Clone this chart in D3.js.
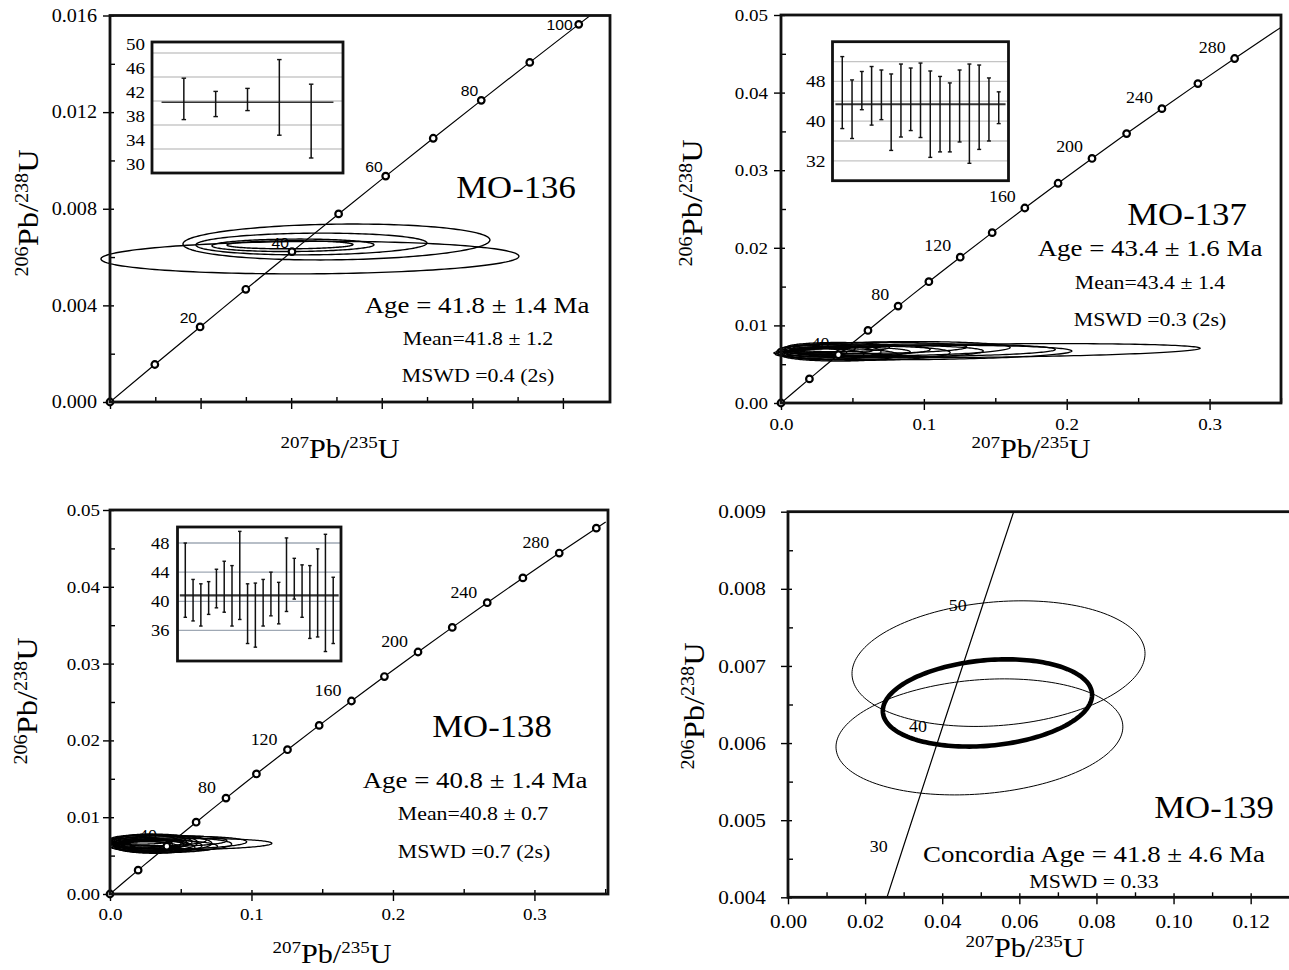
<!DOCTYPE html>
<html>
<head>
<meta charset="utf-8">
<script src="https://cdn.jsdelivr.net/npm/d3@7"></script>
<style>
  body { margin: 0; background: #fff; }
  svg { display: block; background: #fff; }
</style>
</head>
<body>
<svg id="chart" width="1289" height="970"></svg>
<script>
// concordia reference points: age (Ma), 207Pb/235U, 206Pb/238U
const concAge = [0, 10, 20, 25, 30, 40, 50, 60, 70, 80, 90, 100, 103, 120, 140, 160, 180, 200, 220, 240, 260, 280, 300, 305];
const concX = [0, 0.009897, 0.019892, 0.024927, 0.029986, 0.040180, 0.050475, 0.060872, 0.071371, 0.081975, 0.092683, 0.103498, 0.106763,
               0.125449, 0.147837, 0.170670, 0.193957, 0.217707, 0.241930, 0.266635, 0.291832, 0.317529, 0.343737, 0.350371];
const concY = [0, 0.0015525, 0.0031073, 0.0038857, 0.0046646, 0.0062243, 0.0077864, 0.0093509, 0.0109179, 0.0124873, 0.0140592, 0.0156334, 0.0161062,
               0.0187893, 0.0219550, 0.0251305, 0.0283160, 0.0315113, 0.0347165, 0.0379318, 0.0411569, 0.0443921, 0.0476374, 0.0484503];

// ---- MO-136 ----
const p1Markers = [0, 10, 20, 30, 40, 50, 60, 70, 80, 90, 100];
const p1AgeLabels = [20, 40, 60, 80, 100];
const p1EllCx = [0.04415, 0.0500, 0.04448, 0.0404, 0.03974];
const p1EllCy = [0.005977, 0.006624, 0.006541, 0.006487, 0.006508];
const p1EllA = [0.04614, 0.03389, 0.0255, 0.01788, 0.01391];
const p1EllB = [0.000671, 0.000738, 0.000448, 0.000257, 0.000166];
const p1EllTilt = [0.000056, 0.000083, 0.00004, 0.00002, 0.00001];
const p1BarLo = [38.9, 39.4, 40.4, 36.3, 32.5];
const p1BarHi = [45.8, 43.6, 44.1, 48.9, 44.8];
const p1Mean = 41.8;
const p1InsetGrid = [34, 38, 42, 46, 50];
const p1InsetLabels = [30, 34, 38, 42, 46, 50];
const p1YTicks = [0, 0.004, 0.008, 0.012, 0.016];
const p1YMinor = [0.002, 0.006, 0.010, 0.014];
const p1XTicks = [0, 0.02, 0.04, 0.06, 0.08, 0.10];
const p1XMinor = [0.01, 0.03, 0.05, 0.07, 0.09];
const p1Notes = ['MO-136', 'Age = 41.8 ± 1.4 Ma', 'Mean=41.8 ± 1.2', 'MSWD =0.4 (2s)'];

// ---- MO-137 ----
const p2Markers = [0, 20, 40, 60, 80, 100, 120, 140, 160, 180, 200, 220, 240, 260, 280];
const p2AgeLabels = [40, 80, 120, 160, 200, 240, 280];
const p2EllCx = [0.1442, 0.0998, 0.096, 0.0792, 0.0718, 0.065, 0.0612, 0.0532, 0.0482, 0.041, 0.040, 0.0335, 0.035, 0.030, 0.030, 0.025, 0.025];
const p2EllCy = [0.00675, 0.0065, 0.0068, 0.0070, 0.0066, 0.0071, 0.0064, 0.0069, 0.0066, 0.0062, 0.0072, 0.0066, 0.0068, 0.0063, 0.0070, 0.0065, 0.0067];
const p2EllA = [0.1492, 0.1038, 0.096, 0.0812, 0.0698, 0.065, 0.0572, 0.0512, 0.0422, 0.041, 0.036, 0.0365, 0.029, 0.028, 0.022, 0.021, 0.015];
const p2EllB = [0.00085, 0.0009, 0.0008, 0.0009, 0.0008, 0.0007, 0.0009, 0.0007, 0.0006, 0.0008, 0.0006, 0.0010, 0.0005, 0.0007, 0.0005, 0.0006, 0.0004];
const p2EllTilt = [0.0003, 0.0002, 0.0001, 0.00015, 0.0001, 0.0001, 0.0001, 0, 0, 0, 0, 0, 0, 0, 0, 0, 0];
const p2BarLo = [38.5, 36.5, 42.3, 39.2, 40.3, 34.1, 36.8, 38.1, 36.7, 32.7, 33.8, 33.8, 35.8, 31.5, 34.3, 36.0, 39.5];
const p2BarHi = [53.0, 48.3, 50.0, 51.0, 50.3, 49.5, 51.5, 50.7, 51.7, 50.1, 49.0, 47.7, 50.3, 51.5, 51.3, 48.7, 45.9];
const p2Mean = 43.4;
const p2InsetGrid = [32, 36, 40, 44, 48, 52];
const p2InsetLabels = [32, 40, 48];
const p2YTicks = [0, 0.01, 0.02, 0.03, 0.04, 0.05];
const p2YMinor = [0.005, 0.015, 0.025, 0.035, 0.045];
const p2XTicks = [0, 0.1, 0.2, 0.3];
const p2XMinor = [0.05, 0.15, 0.25, 0.35];
const p2Notes = ['MO-137', 'Age = 43.4 ± 1.6 Ma', 'Mean=43.4 ± 1.4', 'MSWD =0.3 (2s)'];

// ---- MO-138 ----
const p3Markers = [0, 20, 40, 60, 80, 100, 120, 140, 160, 180, 200, 220, 240, 260, 280, 300];
const p3AgeLabels = [40, 80, 120, 160, 200, 240, 280];
const p3EllCx = [0.0572, 0.0493, 0.043, 0.0418, 0.038, 0.0375, 0.034, 0.0335, 0.0315, 0.032, 0.029, 0.0295, 0.0275, 0.0285, 0.026, 0.026, 0.023, 0.025, 0.0225, 0.024];
const p3EllCy = [0.0065, 0.0067, 0.0064, 0.0069, 0.0062, 0.0066, 0.0070, 0.0063, 0.0067, 0.0061, 0.0068, 0.0065, 0.0069, 0.0064, 0.0066, 0.0062, 0.0071, 0.0065, 0.0067, 0.0064];
const p3EllA = [0.0572, 0.0473, 0.043, 0.0408, 0.038, 0.0345, 0.034, 0.0315, 0.0305, 0.028, 0.029, 0.0265, 0.0265, 0.0235, 0.024, 0.022, 0.023, 0.019, 0.0195, 0.016];
const p3EllB = [0.0007, 0.0008, 0.0009, 0.0007, 0.0008, 0.0010, 0.0007, 0.0009, 0.0011, 0.0008, 0.0009, 0.0006, 0.0008, 0.0007, 0.0012, 0.0006, 0.0006, 0.0008, 0.0007, 0.0005];
const p3EllTilt = [0.0001, 0.0001, 0.0001, 0.00005, 0, 0, 0, 0, 0, 0, 0, 0, 0, 0, 0, 0, 0, 0, 0, 0];
const p3BarLo = [37.8, 37.3, 36.6, 38.2, 39.1, 38.5, 36.6, 37.5, 34.2, 33.7, 36.6, 38.0, 36.9, 38.6, 40.3, 37.8, 34.9, 35.1, 33.1, 34.2];
const p3BarHi = [48.0, 43.0, 42.4, 42.7, 44.4, 45.5, 44.9, 49.6, 42.4, 42.5, 43.0, 44.0, 42.6, 48.7, 45.9, 45.0, 44.9, 47.2, 49.2, 43.3];
const p3Mean = 40.8;
const p3InsetGrid = [36, 40, 44, 48];
const p3InsetLabels = [36, 40, 44, 48];
const p3YTicks = [0, 0.01, 0.02, 0.03, 0.04, 0.05];
const p3YMinor = [0.005, 0.015, 0.025, 0.035, 0.045];
const p3XTicks = [0, 0.1, 0.2, 0.3];
const p3XMinor = [0.05, 0.15, 0.25, 0.35];
const p3Notes = ['MO-138', 'Age = 40.8 ± 1.4 Ma', 'Mean=40.8 ± 0.7', 'MSWD =0.7 (2s)'];

// ---- MO-139 ----
const p4Markers = [];
const p4AgeLabels = [30, 40, 50];
const p4EllCx = [0.0546, 0.04965, 0.05173];
const p4EllCy = [0.00703, 0.00608, 0.00652];
const p4EllA = [0.0380, 0.0372, 0.02714];
const p4EllB = [0.000804, 0.000741, 0.000556];
const p4EllTilt = [0.00013, 0.00013, 0.000104];
const p4YTicks = [0.004, 0.005, 0.006, 0.007, 0.008, 0.009];
const p4YMinor = [0.0045, 0.0055, 0.0065, 0.0075, 0.0085];
const p4XTicks = [0, 0.02, 0.04, 0.06, 0.08, 0.10, 0.12];
const p4XMinor = [0.01, 0.03, 0.05, 0.07, 0.09, 0.11, 0.13];
const p4Notes = ['MO-139', 'Concordia Age = 41.8 ± 4.6 Ma', 'MSWD = 0.33'];

const SERIF = '"Liberation Serif", "Times New Roman", serif';
const SANS = '"Liberation Sans", Arial, sans-serif';
const SX = 1.12; // the scanned figure is a bit wider than tall

const svg = d3.select('#chart');

const panels = [
  {
    name: 'p1', xDomain: [0, 0.1104], xRange: [110, 610], yDomain: [0, 0.016], yRange: [402, 15.5],
    yFmt: '.3f', xFmt: null, yPad: 6, xPad: 8, tickSize: 18,
    lab: [-3, -4], labFont: SANS, labSize: 14, ellStroke: 1.4,
    notePos: [[516, 198, 31], [477, 313, 24], [478, 345, 19.5], [478, 382, 19.5]],
    xTitle: [340, 458], yTitle: [38, 213],
    inset: { x: [152, 343], y: [42, 173], yDomain: [30, 51.83], gap: 7, labelDy: -8.5, labelSize: 17,
             grid: '#c8c8c8', cap: 4.5, meanW: 1.6 },
    d: { markers: p1Markers, ageLabels: p1AgeLabels, ellCx: p1EllCx, ellCy: p1EllCy, ellA: p1EllA, ellB: p1EllB, ellTilt: p1EllTilt,
         lo: p1BarLo, hi: p1BarHi, mean: p1Mean, grid: p1InsetGrid, insetLabels: p1InsetLabels,
         yMajor: p1YTicks, yMinor: p1YMinor, xMajor: p1XTicks, xMinor: p1XMinor, notes: p1Notes }
  },
  {
    name: 'p2', xDomain: [0, 0.35], xRange: [781, 1281], yDomain: [0, 0.05], yRange: [403, 15],
    yFmt: '.2f', xFmt: '.1f', yPad: 6, xPad: 8, tickSize: 17,
    lab: [-9, -6], labFont: SERIF, labSize: 16, ellStroke: 1.3,
    notePos: [[1187, 225, 31], [1150, 256, 24], [1150, 289, 19.5], [1150, 326, 19.5]],
    xTitle: [1031, 458], yTitle: [702, 203],
    inset: { x: [832.5, 1008.5], y: [41.7, 180.7], yDomain: [28, 56], gap: 7, labelDy: 0, labelSize: 17.5,
             grid: '#c4c4c4', cap: 4, meanW: 2.2 },
    d: { markers: p2Markers, ageLabels: p2AgeLabels, ellCx: p2EllCx, ellCy: p2EllCy, ellA: p2EllA, ellB: p2EllB, ellTilt: p2EllTilt,
         lo: p2BarLo, hi: p2BarHi, mean: p2Mean, grid: p2InsetGrid, insetLabels: p2InsetLabels,
         yMajor: p2YTicks, yMinor: p2YMinor, xMajor: p2XTicks, xMinor: p2XMinor, notes: p2Notes }
  },
  {
    name: 'p3', xDomain: [0, 0.352], xRange: [110, 608], yDomain: [0, 0.05], yRange: [894, 510],
    yFmt: '.2f', xFmt: '.1f', yPad: 3, xPad: 7, tickSize: 17,
    lab: [-10, -5], labFont: SERIF, labSize: 16, ellStroke: 1.3,
    notePos: [[492, 737, 31], [475, 788, 24], [473, 820, 19.5], [474, 858, 19.5]],
    xTitle: [332, 963], yTitle: [37, 701],
    inset: { x: [177.5, 341], y: [527, 661], yDomain: [31.8, 50.2], gap: 8, labelDy: 0, labelSize: 16.5,
             grid: '#9fa8b4', cap: 3.5, meanW: 2.2 },
    d: { markers: p3Markers, ageLabels: p3AgeLabels, ellCx: p3EllCx, ellCy: p3EllCy, ellA: p3EllA, ellB: p3EllB, ellTilt: p3EllTilt,
         lo: p3BarLo, hi: p3BarHi, mean: p3Mean, grid: p3InsetGrid, insetLabels: p3InsetLabels,
         yMajor: p3YTicks, yMinor: p3YMinor, xMajor: p3XTicks, xMinor: p3XMinor, notes: p3Notes }
  },
  {
    name: 'p4', xDomain: [0, 0.1315], xRange: [788, 1295], yDomain: [0.004, 0.009], yRange: [897.3, 511.7],
    yFmt: '.3f', xFmt: '.2f', yPad: 15, xPad: 10.5, tickSize: 19,
    lab: [-16, 6], labFont: SERIF, labSize: 16, ellWidth: [1, 1, 4.6],
    notePos: [[1214, 818, 31], [1094, 862, 24], [1094, 888, 19.5]],
    xTitle: [1025, 957], yTitle: [704, 706],
    inset: null,
    d: { markers: p4Markers, ageLabels: p4AgeLabels, ellCx: p4EllCx, ellCy: p4EllCy, ellA: p4EllA, ellB: p4EllB, ellTilt: p4EllTilt,
         yMajor: p4YTicks, yMinor: p4YMinor, xMajor: p4XTicks, xMinor: p4XMinor, notes: p4Notes }
  }
];

function stretched(sel, x, y, rotate) {
  return sel.attr('transform', `translate(${x},${y})${rotate ? ' rotate(-90)' : ''} scale(${SX},1)`);
}

function drawAxes(g, x, y, p, d) {
  const x0 = p.xRange[0], yb = p.yRange[0];
  const yMaj = g.append('g').attr('transform', `translate(${x0},0)`)
    .call(d3.axisLeft(y).tickValues(d.yMajor).tickSize(7).tickPadding(p.yPad).tickFormat(d3.format(p.yFmt)));
  yMaj.selectAll('.tick line').attr('x1', 4);
  g.append('g').attr('transform', `translate(${x0},0)`)
    .call(d3.axisLeft(y).tickValues(d.yMinor).tickSize(-5).tickFormat(''));
  const xMaj = g.append('g').attr('transform', `translate(0,${yb})`)
    .call(d3.axisBottom(x).tickValues(d.xMajor).tickSize(7).tickPadding(p.xPad)
      .tickFormat(p.xFmt ? d3.format(p.xFmt) : ''));
  xMaj.selectAll('.tick line').attr('y1', -4);
  g.append('g').attr('transform', `translate(0,${yb})`)
    .call(d3.axisBottom(x).tickValues(d.xMinor).tickSize(-5).tickFormat(''));
  g.selectAll('.domain').remove();
  g.selectAll('.tick line').attr('stroke-width', 1.4);
  g.selectAll('.tick text')
    .style('font-family', SERIF).style('font-size', p.tickSize + 'px')
    .attr('transform', `scale(${SX},1)`)
    .attr('x', function () { return (+this.getAttribute('x') || 0) / SX; });
}

function drawInset(g, p, d) {
  const s = p.inset;
  const ix = d3.scaleLinear().domain([0, d.lo.length + 1]).range(s.x);
  const iy = d3.scaleLinear().domain(s.yDomain).range([s.y[1], s.y[0]]);
  const ig = g.append('g');
  ig.append('rect').attr('x', s.x[0]).attr('y', s.y[0])
    .attr('width', s.x[1] - s.x[0]).attr('height', s.y[1] - s.y[0]).attr('fill', '#fff');
  ig.selectAll('line.grid').data(d.grid).join('line').attr('class', 'grid')
    .attr('x1', s.x[0]).attr('x2', s.x[1]).attr('y1', v => iy(v)).attr('y2', v => iy(v))
    .attr('stroke', s.grid).attr('stroke-width', 1.3);
  ig.selectAll('text').data(d.insetLabels).join('text')
    .attr('transform', v => `translate(${s.x[0] - s.gap},${iy(v) + s.labelDy}) scale(${SX},1)`)
    .attr('dy', '0.34em').attr('text-anchor', 'end')
    .style('font-family', SERIF).style('font-size', s.labelSize + 'px').text(v => v);
  ig.append('line')
    .attr('x1', ix(0.3)).attr('x2', ix(d.lo.length + 0.7))
    .attr('y1', iy(d.mean)).attr('y2', iy(d.mean))
    .attr('stroke', '#333').attr('stroke-width', s.meanW);
  ig.append('g').selectAll('line').data(d.lo).join('line')
    .attr('x1', (v, i) => ix(i + 1)).attr('x2', (v, i) => ix(i + 1))
    .attr('y1', v => iy(v)).attr('y2', (v, i) => iy(d.hi[i]))
    .attr('stroke', '#111').attr('stroke-width', 1.5);
  [d.lo, d.hi].forEach(arr => {
    ig.append('g').selectAll('line').data(arr).join('line')
      .attr('x1', (v, i) => ix(i + 1) - s.cap / 2).attr('x2', (v, i) => ix(i + 1) + s.cap / 2)
      .attr('y1', v => iy(v)).attr('y2', v => iy(v))
      .attr('stroke', '#111').attr('stroke-width', 1.4);
  });
  ig.append('rect').attr('x', s.x[0]).attr('y', s.y[0])
    .attr('width', s.x[1] - s.x[0]).attr('height', s.y[1] - s.y[0])
    .attr('fill', 'none').attr('stroke', '#111').attr('stroke-width', 2.8);
}

function ratioTitle(g, pos, size, lower, upper, rotate) {
  const sup = Math.round(size * 0.63);
  const t = stretched(g.append('text'), pos[0], pos[1], rotate)
    .attr('text-anchor', 'middle').style('font-family', SERIF).style('font-size', size + 'px');
  t.append('tspan').style('font-size', sup + 'px').attr('dy', -10).text(upper[0]);
  t.append('tspan').attr('dy', 10).text('Pb/');
  t.append('tspan').style('font-size', sup + 'px').attr('dy', -10).text(upper[1]);
  t.append('tspan').attr('dy', 10).text(lower);
}

function drawPanel(p) {
  const d = p.d;
  const x = d3.scaleLinear().domain(p.xDomain).range(p.xRange);
  const y = d3.scaleLinear().domain(p.yDomain).range(p.yRange);
  const g = svg.append('g');
  const [x0, x1] = p.xRange, [yb, yt] = p.yRange;

  g.append('clipPath').attr('id', 'clip-' + p.name).append('rect')
    .attr('x', x0).attr('y', yt).attr('width', x1 - x0).attr('height', yb - yt);

  drawAxes(g, x, y, p, d);

  // error ellipses
  const ang = d3.range(0, 360, 2).map(a => a * Math.PI / 180);
  const closed = d3.line().curve(d3.curveLinearClosed);
  g.append('g').selectAll('path').data(d.ellCx).join('path')
    .attr('d', (cx, i) => closed(ang.map(t => [
      x(cx + d.ellA[i] * Math.cos(t)),
      y(d.ellCy[i] + d.ellB[i] * Math.sin(t) + d.ellTilt[i] * Math.cos(t))
    ])))
    .attr('fill', 'none').attr('stroke', '#000')
    .attr('stroke-width', (cx, i) => p.ellWidth ? p.ellWidth[i] : p.ellStroke);

  // concordia curve
  g.append('path')
    .datum(concAge.map((a, i) => [concX[i], concY[i]]))
    .attr('clip-path', `url(#clip-${p.name})`)
    .attr('d', d3.line().x(v => x(v[0])).y(v => y(v[1])))
    .attr('fill', 'none').attr('stroke', '#000').attr('stroke-width', 1.2);

  const at = a => concAge.indexOf(a);
  g.append('g').selectAll('circle').data(d.markers).join('circle')
    .attr('cx', a => x(concX[at(a)])).attr('cy', a => y(concY[at(a)]))
    .attr('r', 3.3).attr('fill', '#fff').attr('stroke', '#000').attr('stroke-width', 2.2);

  g.append('g').selectAll('text').data(d.ageLabels).join('text')
    .attr('transform', a => {
      const px = x(concX[at(a)]), py = y(concY[at(a)]);
      let tx = px + p.lab[0], ty = py + p.lab[1];
      if (ty - 12 < yt) { tx = px - 6; ty = py + 6; }
      return `translate(${tx},${ty}) scale(${SX},1)`;
    })
    .attr('text-anchor', 'end')
    .style('font-family', p.labFont).style('font-size', p.labSize + 'px')
    .text(a => a);

  // frame
  g.append('rect').attr('x', x0).attr('y', yt).attr('width', x1 - x0).attr('height', yb - yt)
    .attr('fill', 'none').attr('stroke', '#111').attr('stroke-width', 2.8);

  if (p.inset) drawInset(g, p, d);

  d.notes.forEach((s, i) => {
    const [nx, ny, size] = p.notePos[i];
    stretched(g.append('text'), nx, ny)
      .attr('text-anchor', 'middle').style('font-family', SERIF).style('font-size', size + 'px')
      .text(s);
  });

  ratioTitle(g, p.xTitle, 27, 'U', ['207', '235'], false);
  ratioTitle(g, p.yTitle, 29, 'U', ['206', '238'], true);
}

panels.forEach(drawPanel);
</script>
</body>
</html>
